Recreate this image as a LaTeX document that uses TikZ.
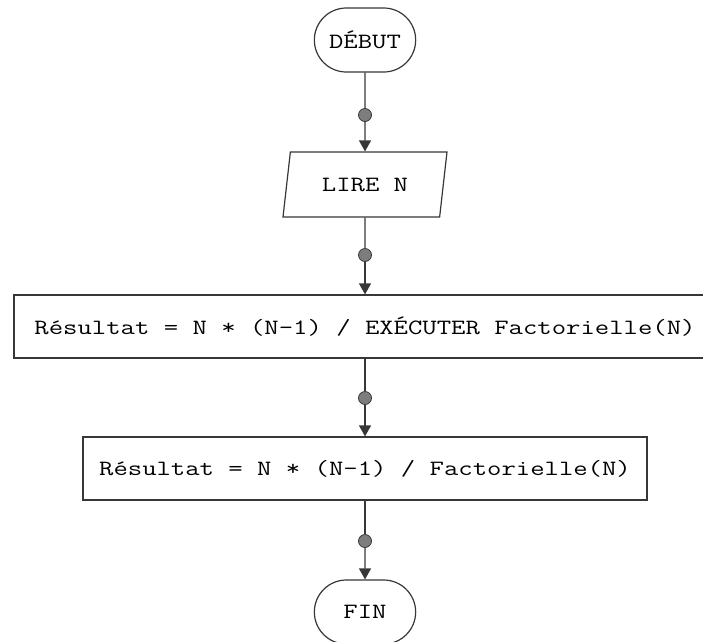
\documentclass[tikz,border=0pt]{standalone}
\usepackage{fontspec}
\newfontfamily\flowfont[FakeStretch=1.28]{Latin Modern Mono}
\usetikzlibrary{arrows.meta,shapes.geometric,shapes.misc}
\definecolor{wire}{RGB}{55,55,55}
\definecolor{knob}{RGB}{125,125,125}
\tikzset{
  >={Triangle[length=11pt,width=12pt]},
  every node/.style={font=\flowfont\fontsize{21.8}{26}\selectfont,text=black},
  term/.style={rounded rectangle,draw=wire,line width=1.2pt,fill=white,
    minimum width=108pt,minimum height=64pt},
  io/.style={trapezium,trapezium left angle=70,trapezium right angle=110,
    trapezium stretches body,draw=wire,line width=1.2pt,fill=white,
    minimum width=164pt,minimum height=65pt},
  proc/.style={rectangle,draw=wire,line width=1.2pt,fill=white,
    minimum width=#1,minimum height=63pt},
  proc/.default=564pt,
  knot/.style={circle,draw=wire,fill=knob,line width=0.8pt,inner sep=0pt,minimum size=13pt},
  link/.style={draw=wire,line width=1.3pt},
  flow/.style={->,draw=wire,line width=1.3pt},
}
\begin{document}
\begin{tikzpicture}[x=1pt,y=-1pt]
  \useasboundingbox (0,0) rectangle (703,641);
  % shapes
  \node[term] (debut) at (365,40) {DÉBUT};
  \node[io] (lire) at (365,184.5) {LIRE N};
  \node[proc=702pt] (calc) at (365,326.5) {Résultat = N * (N-1) / EXÉCUTER Factorielle(N)};
  \node[proc] (res) at (365,468.5) {Résultat = N * (N-1) / Factorielle(N)};
  \node[term] (fin) at (365,612) {FIN};
  % junction dots
  \foreach \y [count=\i] in {115,255,398,541}
    \node[knot] (d\i) at (365,\y) {};
  % connectors
  \draw[link] (debut) -- (d1); \draw[flow] (d1) -- (lire);
  \draw[link] (lire) -- (d2); \draw[flow] (d2) -- (calc);
  \draw[link] (calc) -- (d3); \draw[flow] (d3) -- (res);
  \draw[link] (res) -- (d4); \draw[flow] (d4) -- (fin);
\end{tikzpicture}
\end{document}
